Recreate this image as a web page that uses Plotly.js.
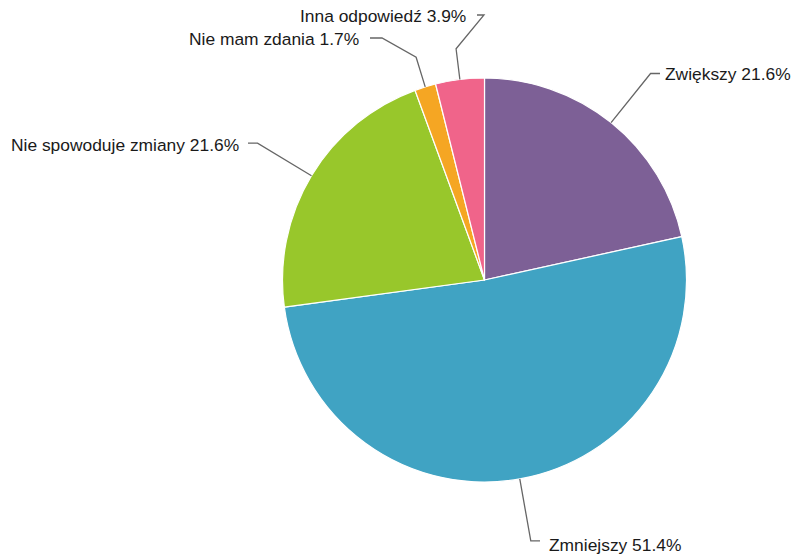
<!DOCTYPE html>
<html>
<head>
<meta charset="utf-8">
<script src="https://cdn.plot.ly/plotly-3.0.1.min.js"></script>
<style>
html,body{margin:0;padding:0;background:#fff;}
#chart{width:801px;height:559px;}
</style>
</head>
<body>
<div id="chart"></div>
<script>
// ---- data ----
var categories = ["Zwiększy", "Zmniejszy", "Nie spowoduje zmiany", "Nie mam zdania", "Inna odpowiedź"];
var values = [21.6, 51.4, 21.6, 1.7, 3.9];
var colors = ["#7d6096", "#40a3c3", "#98c72b", "#f5a623", "#f0648a"];

// ---- layout (pixels) ----
var W = 801, H = 559;
var CX = 484.5, CY = 280, R = 202;
// label placement: anchor x, y, side, bend radius, crook x, line end x
var labelPos = [
  {x: 663, y: 74, side: "left",  bendR: 265, crookX: null, endX: 660},
  {x: 547, y: 545, side: "left", bendR: 265, crookX: null, endX: 540},
  {x: 241, y: 145, side: "right", bendR: 265, crookX: null, endX: 248},
  {x: 361, y: 39, side: "right", bendR: 233, crookX: 382, endX: 370},
  {x: 468, y: 16, side: "right", bendR: 233, crookX: 484, endX: 477}
];

function px2x(p){ return p / W; }
function py2y(p){ return 1 - p / H; }

var total = values.reduce(function(a,b){return a+b;}, 0);
var annotations = [], shapes = [];
var cum = 0;
for (var i = 0; i < values.length; i++) {
  var mid = (cum + values[i] / 2) / total * 2 * Math.PI;
  cum += values[i];
  var dx = Math.sin(mid), dy = -Math.cos(mid);
  var lp = labelPos[i];
  var pts = [
    [CX + R * dx, CY + R * dy],
    [CX + lp.bendR * dx, CY + lp.bendR * dy]
  ];
  var ly = lp.y - 1;
  if (lp.crookX !== null) pts.push([lp.crookX, ly]);
  pts.push([lp.endX, lp.crookX !== null ? ly : pts[pts.length-1][1]]);
  var path = pts.map(function(p, k){ return (k ? "L" : "M") + px2x(p[0]) + "," + py2y(p[1]); }).join(" ");
  shapes.push({type: "path", xref: "paper", yref: "paper", path: path,
               line: {color: "#666666", width: 1.3}});
  annotations.push({
    xref: "paper", yref: "paper",
    x: px2x(lp.x), y: py2y(lp.y),
    xanchor: lp.side, yanchor: "middle",
    text: categories[i] + " " + values[i].toFixed(1) + "%",
    showarrow: false,
    font: {family: "Liberation Sans, Arial, sans-serif", size: 17.4, color: "#1a1a1a"}
  });
}

var trace = {
  type: "pie",
  labels: categories,
  values: values,
  sort: false,
  direction: "clockwise",
  rotation: 0,
  textinfo: "none",
  hoverinfo: "none",
  marker: {colors: colors, line: {color: "#ffffff", width: 1.2}},
  domain: {x: [px2x(CX - R), px2x(CX + R)], y: [py2y(CY + R), py2y(CY - R)]},
  showlegend: false
};

Plotly.newPlot("chart", [trace], {
  width: W, height: H,
  margin: {l: 0, r: 0, t: 0, b: 0},
  paper_bgcolor: "#ffffff",
  showlegend: false,
  annotations: annotations,
  shapes: shapes
}, {staticPlot: true});
</script>
</body>
</html>
